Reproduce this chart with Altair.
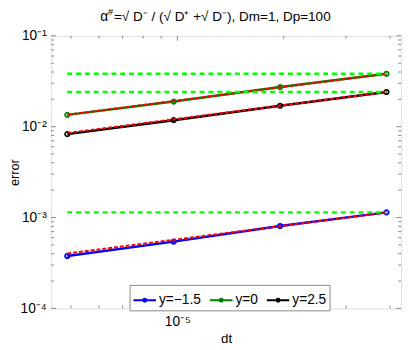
import altair as alt
import pandas as pd

# ---- data ----
dt = [4.8828e-6, 9.7656e-6, 1.9531e-5, 3.9063e-5]
labels = ["y=−1.5", "y=0", "y=2.5"]
err_m15 = [3.77e-4, 5.43e-4, 8.07e-4, 1.14e-3]
err_0 = [0.0135, 0.0189, 0.0273, 0.0383]
err_25 = [0.00828, 0.0118, 0.0170, 0.0241]
colors = ["#0000ff", "#008000", "#000000"]

ref_start = [4.03e-4, 0.01354, 0.00855]
ref_end = [1.14e-3, 0.0383, 0.0241]
flat_levels = [0.0383, 0.0241, 1.14e-3]

x_major = [1e-5]
x_minor = [5e-6, 6e-6, 7e-6, 8e-6, 9e-6, 2e-5, 3e-5, 4e-5]
y_major = [1e-4, 1e-3, 1e-2, 1e-1]
y_minor = [2e-4, 3e-4, 4e-4, 5e-4, 6e-4, 7e-4, 8e-4, 9e-4,
           2e-3, 3e-3, 4e-3, 5e-3, 6e-3, 7e-3, 8e-3, 9e-3,
           2e-2, 3e-2, 4e-2, 5e-2, 6e-2, 7e-2, 8e-2, 9e-2]
x_domain = [4.395e-6, 4.297e-5]
y_domain = [1e-4, 1e-1]

W, H = 357, 278
FONT = "Liberation Sans"
AX = "#888888"

rows = []
for name, errs in zip(labels, [err_m15, err_0, err_25]):
    for d, e in zip(dt, errs):
        rows.append({"series": name, "dt": d, "err": e})
df = pd.DataFrame(rows)

ref_rows = []
for name, s, e in zip(labels, ref_start, ref_end):
    ref_rows.append({"series": name, "dt": dt[0], "err": s})
    ref_rows.append({"series": name, "dt": dt[-1], "err": e})
df_ref = pd.DataFrame(ref_rows)

df_flat = pd.DataFrame({"x0": [dt[0]] * 3, "x1": [dt[-1]] * 3, "lvl": flat_levels})

xs = alt.Scale(type="log", domain=x_domain)
ys = alt.Scale(type="log", domain=y_domain)
cs = alt.Scale(domain=labels, range=colors)

ex = "round(log(datum.value)/LN10)"
label_expr = (f"'10' + ({ex}==-1?'⁻¹':{ex}==-2?'⁻²':{ex}==-3?'⁻³':"
              f"{ex}==-4?'⁻⁴':'⁻⁵')")

x_axis = alt.Axis(values=x_major, labelExpr=label_expr, title="dt", ticks=False,
                  domain=False, grid=False, labelFontSize=14, labelFont=FONT,
                  labelColor="black", titleFont=FONT, titleFontSize=13.5,
                  titleFontWeight="normal", titleColor="black", labelPadding=6,
                  titleBaseline="alphabetic", titleX=W / 2, titleY=35)
y_axis = alt.Axis(values=y_major, labelExpr=label_expr, title="error", ticks=False,
                  domain=False, grid=False, labelFontSize=14, labelFont=FONT,
                  labelColor="black", titleFont=FONT, titleFontSize=13,
                  titleFontWeight="normal", titleColor="black", labelPadding=5,
                  titleBaseline="alphabetic", titleX=-33, titleY=H / 2)

legend = alt.Legend(
    title=None, orient="none", legendX=80, legendY=254, direction="horizontal",
    symbolType="M-1,0H1M-0.13,0A0.13,0.13,0,1,0,0.13,0A0.13,0.13,0,1,0,-0.13,0",
    symbolSize=529, symbolStrokeWidth=2, labelFontSize=14, labelFont=FONT,
    labelColor="black", strokeColor=AX, fillColor="white", padding=3,
    columnPadding=5, labelOffset=2,
)

lines = alt.Chart(df).mark_line(strokeWidth=2.5).encode(
    x=alt.X("dt:Q", scale=xs, axis=x_axis),
    y=alt.Y("err:Q", scale=ys, axis=y_axis),
    color=alt.Color("series:N", scale=cs, legend=legend),
    order="dt:Q",
)
points = alt.Chart(df).mark_point(filled=False, size=20, strokeWidth=1.8, opacity=1).encode(
    x=alt.X("dt:Q", scale=xs),
    y=alt.Y("err:Q", scale=ys),
    color=alt.Color("series:N", scale=cs, legend=None),
)
refs = alt.Chart(df_ref).mark_line(color="#ff0000", strokeWidth=2, strokeDash=[4, 2]).encode(
    x=alt.X("dt:Q", scale=xs),
    y=alt.Y("err:Q", scale=ys),
    detail="series:N",
)
flats = alt.Chart(df_flat).mark_rule(color="#00ff00", strokeWidth=2.5, strokeDash=[5, 4]).encode(
    x=alt.X("x0:Q", scale=xs),
    x2="x1:Q",
    y=alt.Y("lvl:Q", scale=ys),
)


def xticks(vals, ln):
    d = pd.DataFrame({"v": vals})
    bot = alt.Chart(d).mark_rule(color=AX, strokeWidth=1).encode(
        x=alt.X("v:Q", scale=xs), y=alt.value(H), y2=alt.value(H - ln))
    top = alt.Chart(d).mark_rule(color=AX, strokeWidth=1).encode(
        x=alt.X("v:Q", scale=xs), y=alt.value(0), y2=alt.value(ln))
    return [bot, top]


def yticks(vals, ln):
    d = pd.DataFrame({"v": vals})
    left = alt.Chart(d).mark_rule(color=AX, strokeWidth=1).encode(
        y=alt.Y("v:Q", scale=ys), x=alt.value(0), x2=alt.value(ln))
    right = alt.Chart(d).mark_rule(color=AX, strokeWidth=1).encode(
        y=alt.Y("v:Q", scale=ys), x=alt.value(W), x2=alt.value(W - ln))
    return [left, right]


ticks = xticks(x_major, 5) + xticks(x_minor, 3) + yticks(y_major, 5) + yticks(y_minor, 3)

title_df = pd.DataFrame({"t": ["x"]})
t_alpha = alt.Chart(title_df).mark_text(font=FONT, fontSize=14, align="left", baseline="alphabetic").encode(
    x=alt.value(50), y=alt.value(-15), text=alt.value("α"))
t_hash = alt.Chart(title_df).mark_text(font=FONT, fontSize=9.5, align="left", baseline="alphabetic").encode(
    x=alt.value(58), y=alt.value(-21), text=alt.value("#"))
t_rest = alt.Chart(title_df).mark_text(font=FONT, fontSize=13.8, align="left", baseline="alphabetic").encode(
    x=alt.value(64), y=alt.value(-15), text=alt.value("=√ D⁻ / (√ D⁺ +√ D⁻), Dm=1, Dp=100"))

chart = alt.layer(
    lines, points, refs, flats, *ticks, t_alpha, t_hash, t_rest
).properties(
    width=W, height=H,
    autosize=alt.AutoSizeParams(type="none"),
    padding={"left": 44, "top": 25, "right": 6, "bottom": 38},
).configure_view(stroke=AX, strokeWidth=1).configure(background="white")

chart.save("out.html", embed_options={"renderer": "svg", "actions": False})
